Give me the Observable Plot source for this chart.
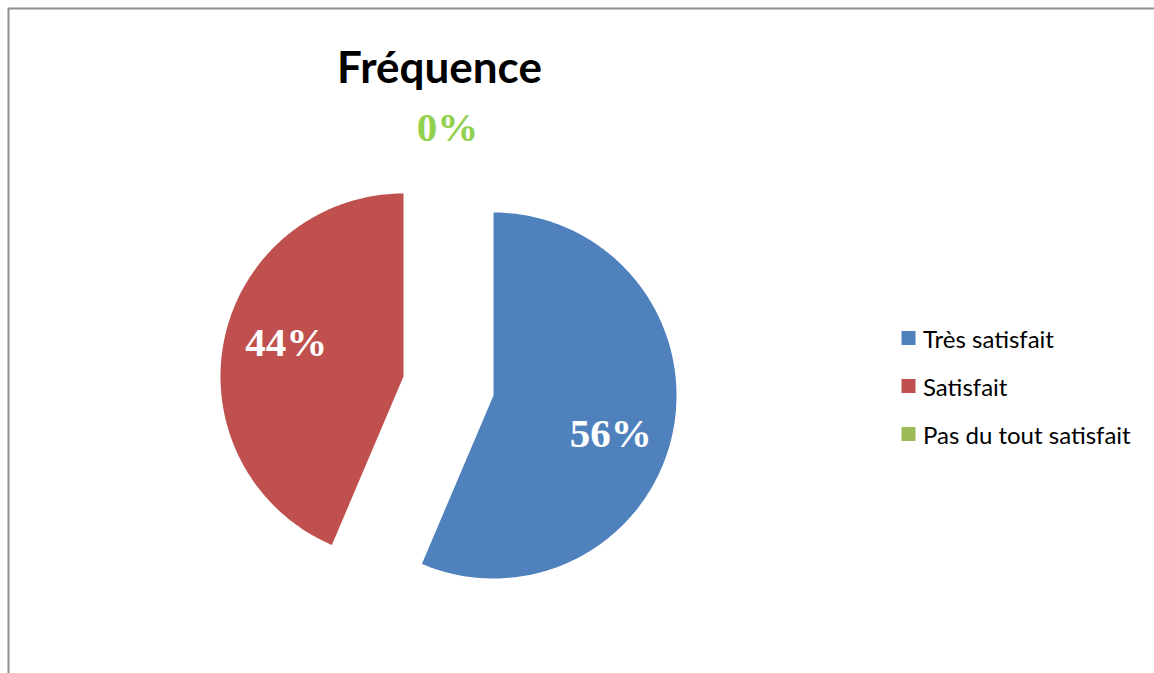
<!DOCTYPE html>
<html>
<head>
<meta charset="utf-8">
<script src="https://cdn.jsdelivr.net/npm/d3@7"></script>
<script src="https://cdn.jsdelivr.net/npm/@observablehq/plot@0.6"></script>
<style>
  html, body { margin: 0; padding: 0; background: #fff; }
  #chart svg { display: block; }
</style>
</head>
<body>
<div id="chart"></div>
<script>
// ---- data ----
const title = "Fréquence";
const categories = ["Très satisfait", "Satisfait", "Pas du tout satisfait"];
const values = [56.4, 43.6, 0];
const labels = ["56%", "44%", "0%"];
const colors = ["#4F81BD", "#C0504D", "#9BBB59"];
const labelColors = ["#ffffff", "#ffffff", "#92D050"];

// ---- layout ----
const W = 1154, H = 673;
const cx = 448, cy = 385.5, R = 183;
const explode = [[45, 9.5], [-45, -9.5], [0, 0]];

const total = d3.sum(values);
let acc = 0;
const slices = values.map((v, i) => {
  const a0 = acc / total * 2 * Math.PI;
  acc += v;
  const a1 = acc / total * 2 * Math.PI;
  return {name: categories[i], value: v, a0, a1, ox: cx + explode[i][0], oy: cy + explode[i][1], i};
});

// polygon points for each slice
const pts = [];
for (const s of slices) {
  if (s.value <= 0) continue;
  pts.push({name: s.name, x: s.ox, y: s.oy});
  const n = Math.max(2, Math.ceil((s.a1 - s.a0) / (2 * Math.PI) * 360));
  for (let k = 0; k <= n; k++) {
    const a = s.a0 + (s.a1 - s.a0) * k / n;
    pts.push({name: s.name, x: s.ox + R * Math.sin(a), y: s.oy - R * Math.cos(a)});
  }
  pts.push({name: s.name, x: s.ox, y: s.oy});
}

// labels
const labelData = slices.map(s => {
  const mid = (s.a0 + s.a1) / 2;
  if (s.value > 0) {
    const a = mid + 5.5 * Math.PI / 180;
    const d = 0.67 * R;
    return {text: labels[s.i], color: labelColors[s.i], x: s.ox + d * Math.sin(a), y: s.oy - d * Math.cos(a) + 2};
  } else {
    const d = 1.41 * R;
    return {text: labels[s.i], color: labelColors[s.i], x: s.ox + d * Math.sin(mid) - 1, y: s.oy - d * Math.cos(mid)};
  }
});

const legendX = 908, legendY0 = 337.5, legendStep = 48;
const legendData = categories.map((c, i) => ({name: c, x: legendX, y: legendY0 + i * legendStep}));

const chart = Plot.plot({
  width: W, height: H,
  margin: 0,
  x: {domain: [0, W], range: [0, W], axis: null},
  y: {domain: [0, H], range: [0, H], axis: null},
  color: {domain: categories, range: colors},
  marks: [
    Plot.ruleY([8], {x1: 8, x2: W, stroke: "#8f8f8f", strokeWidth: 2}),
    Plot.ruleX([8], {y1: 8, y2: H, stroke: "#8f8f8f", strokeWidth: 2}),
    Plot.line(pts, {x: "x", y: "y", z: "name", fill: "name", stroke: null, curve: "linear"}),
    Plot.text(labelData, {x: "x", y: "y", text: "text", fill: d => d.color,
      fontFamily: "'Liberation Serif', 'Times New Roman', serif", fontWeight: "bold", fontSize: 41,
      textAnchor: "middle", lineAnchor: "middle"}),
    Plot.text([title], {x: cx - 9, y: 68, text: d => d, fill: "#000",
      fontFamily: "Lato, 'Open Sans', sans-serif", fontWeight: "bold", fontSize: 44,
      textAnchor: "middle", lineAnchor: "middle"}),
    Plot.dot(legendData, {x: "x", y: "y", fill: "name", symbol: "square", r: 7.9, stroke: null}),
    Plot.text(legendData, {x: d => d.x + 14.5, y: d => d.y + 2, text: "name", fill: "#000",
      fontFamily: "Lato, 'Open Sans', sans-serif", fontSize: 24,
      textAnchor: "start", lineAnchor: "middle"})
  ]
});
document.getElementById("chart").appendChild(chart);
</script>
</body>
</html>
